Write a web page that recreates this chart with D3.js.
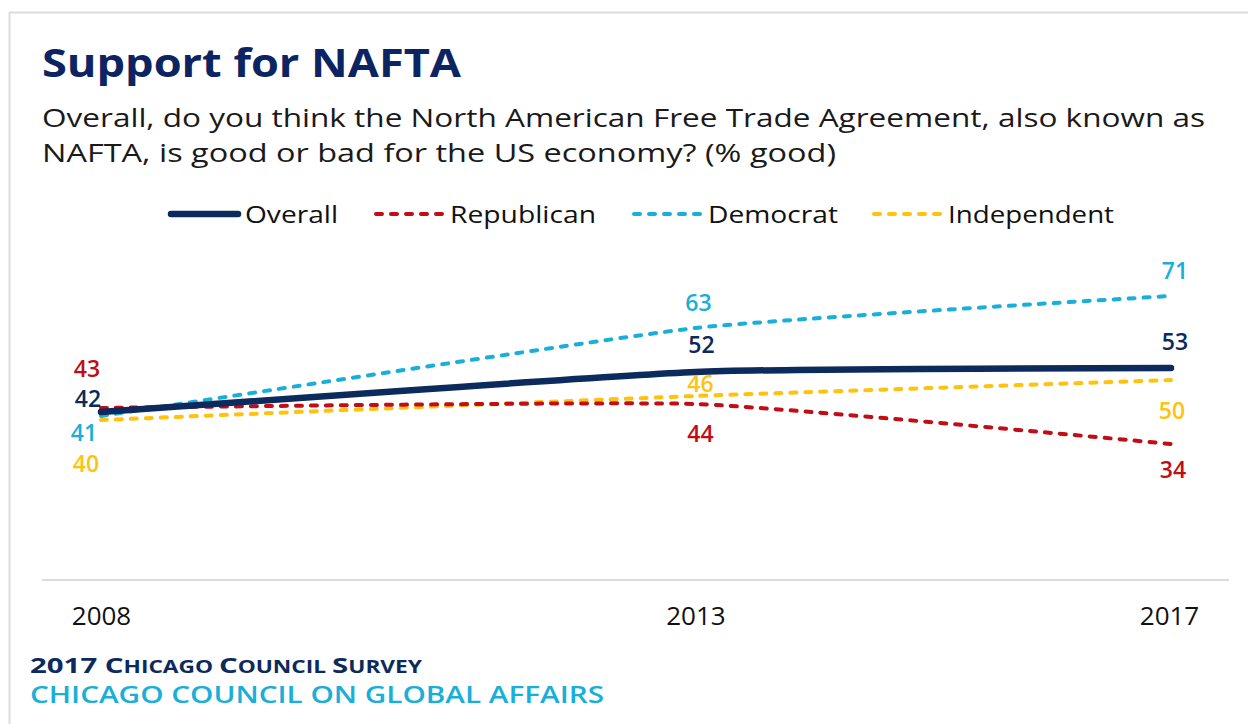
<!DOCTYPE html>
<html>
<head>
<meta charset="utf-8">
<script src="https://cdn.jsdelivr.net/npm/d3@7"></script>
<style>
  html, body { margin: 0; padding: 0; background: #fff; }
  svg { display: block; font-family: "Open Sans", "Noto Sans", sans-serif; }
</style>
</head>
<body>
<svg id="chart" width="1248" height="724"></svg>
<script>
// Survey years and "% good" values per group
const years = [2008, 2013, 2017];
const overall = [42, 52, 53];
const republican = [43, 44, 34];
const democrat = [41, 63, 71];
const independent = [40, 46, 50];
const seriesNames = ["Overall", "Republican", "Democrat", "Independent"];

const colors = {
  Overall: "#0c2a5b",
  Republican: "#c00d16",
  Democrat: "#1aafd9",
  Independent: "#ffc20e"
};

const series = [
  { name: "Overall", values: overall },
  { name: "Republican", values: republican },
  { name: "Democrat", values: democrat },
  { name: "Independent", values: independent }
];

const svg = d3.select("#chart");

// Frame lines (top and left)
svg.append("line").attr("x1", 9).attr("x2", 1248).attr("y1", 12.5).attr("y2", 12.5)
  .attr("stroke", "#dcdcdc").attr("stroke-width", 2);
svg.append("line").attr("x1", 9.5).attr("x2", 9.5).attr("y1", 12).attr("y2", 724)
  .attr("stroke", "#dcdcdc").attr("stroke-width", 2);

// Title and question
svg.append("text").attr("x", 42).attr("y", 77)
  .attr("font-size", 40).attr("font-weight", 700).attr("fill", "#0c2461")
  .attr("textLength", 419).attr("lengthAdjust", "spacingAndGlyphs")
  .text("Support for NAFTA");
svg.append("text").attr("x", 42).attr("y", 127)
  .attr("font-size", 26).attr("fill", "#1a1a1a")
  .attr("textLength", 1163).attr("lengthAdjust", "spacingAndGlyphs")
  .text("Overall, do you think the North American Free Trade Agreement, also known as");
svg.append("text").attr("x", 42).attr("y", 162)
  .attr("font-size", 26).attr("fill", "#1a1a1a")
  .attr("textLength", 794).attr("lengthAdjust", "spacingAndGlyphs")
  .text("NAFTA, is good or bad for the US economy? (% good)");

// Scales
const x = d3.scaleLinear().domain([2008, 2017]).range([101, 1171]);
const y = d3.scaleLinear().domain([0, 100]).range([580, 180]);

// Baseline axis with year labels
const xAxis = d3.axisBottom(x).tickValues(years).tickFormat(d3.format("d")).tickSize(0).tickPadding(27);
const axisG = svg.append("g").attr("transform", "translate(0,580)").call(xAxis);
axisG.select(".domain").remove();
axisG.selectAll("text")
  .attr("font-size", 26).attr("fill", "#111")
  .attr("font-family", "'Open Sans', 'Noto Sans', sans-serif")
  .attr("dx", (d, i) => [0, 0, -2][i]);
svg.append("line").attr("x1", 42).attr("x2", 1229).attr("y1", 580).attr("y2", 580)
  .attr("stroke", "#dcdcdc").attr("stroke-width", 2);

const line = d3.line()
  .x((d, i) => x(years[i]))
  .y(d => y(d))
  .curve(d3.curveCardinal.tension(0.55));

const dash = "6,9";

// Draw dashed party lines first, overall on top
const drawOrder = ["Independent", "Republican", "Democrat", "Overall"];
drawOrder.forEach(name => {
  const s = series.find(d => d.name === name);
  svg.append("path")
    .datum(s.values)
    .attr("d", line)
    .attr("fill", "none")
    .attr("stroke", colors[name])
    .attr("stroke-width", name === "Overall" ? 6.5 : 4)
    .attr("stroke-linecap", "round")
    .attr("stroke-dasharray", name === "Overall" ? null : dash);
});

// Legend
const legendX = { Overall: 168, Republican: 373, Democrat: 631, Independent: 871 };
const legendW = { Overall: 93, Republican: 146, Democrat: 130, Independent: 166 };
seriesNames.forEach(name => {
  const g = svg.append("g").attr("transform", `translate(${legendX[name]},214)`);
  g.append("line").attr("x1", 3).attr("x2", 70).attr("y1", 0).attr("y2", 0)
    .attr("stroke", colors[name])
    .attr("stroke-width", name === "Overall" ? 6.5 : 4)
    .attr("stroke-linecap", "round")
    .attr("stroke-dasharray", name === "Overall" ? null : dash);
  g.append("text").attr("x", 77).attr("y", 9).attr("font-size", 24).attr("fill", "#111")
    .attr("textLength", legendW[name]).attr("lengthAdjust", "spacingAndGlyphs")
    .text(name);
});

// Value labels: offsets (px) relative to each point, per series and year index
const labelOffsets = {
  Overall:     [[-13, -5], [6, -19], [4, -18]],
  Republican:  [[-14, -31], [5, 38], [2, 34]],
  Democrat:    [[-17, 25], [3, -17], [4, -17]],
  Independent: [[-15, 52], [5, -4], [1, 39]]
};
series.forEach(s => {
  s.values.forEach((v, i) => {
    const [dx, dy] = labelOffsets[s.name][i];
    svg.append("text")
      .attr("x", x(years[i]) + dx)
      .attr("y", y(v) + dy)
      .attr("text-anchor", "middle")
      .attr("font-size", 23)
      .attr("font-weight", 600)
      .attr("fill", colors[s.name])
      .text(v);
  });
});

// Source lines
const src = svg.append("text").attr("x", 30).attr("y", 673).attr("fill", "#0c2a5b").attr("font-weight", 700)
  .attr("textLength", 392).attr("lengthAdjust", "spacingAndGlyphs");
src.append("tspan").attr("font-size", 22).text("2017 C");
src.append("tspan").attr("font-size", 17).text("HICAGO ");
src.append("tspan").attr("font-size", 22).text("C");
src.append("tspan").attr("font-size", 17).text("OUNCIL ");
src.append("tspan").attr("font-size", 22).text("S");
src.append("tspan").attr("font-size", 17).text("URVEY");
svg.append("text").attr("x", 30).attr("y", 703).attr("fill", "#1aafd9")
  .attr("font-size", 24).attr("font-weight", 600)
  .attr("textLength", 574).attr("lengthAdjust", "spacingAndGlyphs")
  .text("CHICAGO COUNCIL ON GLOBAL AFFAIRS");
</script>
</body>
</html>
